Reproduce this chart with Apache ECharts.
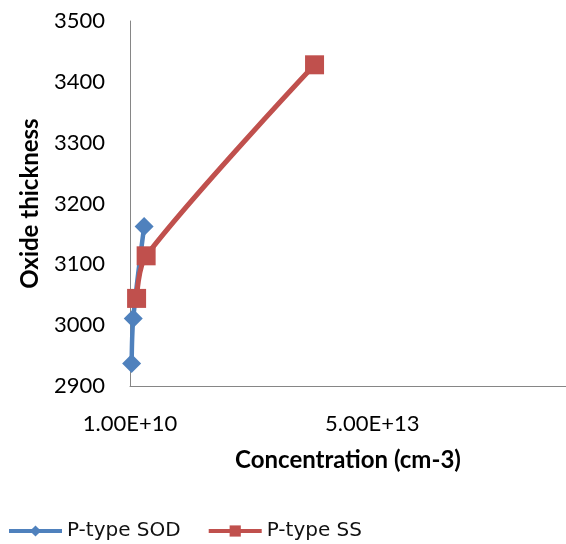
<!DOCTYPE html>
<html><head><meta charset="utf-8">
<script src="https://cdn.jsdelivr.net/npm/echarts@6/dist/echarts.min.js"></script>
<style>html,body{margin:0;padding:0;background:#fff}#c{width:566px;height:544px}</style>
</head><body><div id="c"></div>
<script>
const sodX = [3.5e11, 6.8e11, 2.93e12];
const sodY = [2937, 3011, 3162];
const ssX = [1.37e12, 3.34e12, 3.81e13];
const ssY = [3044, 3114, 3428];
const seriesNames = ['P-type SOD', 'P-type SS'];
const xTitle = 'Concentration (cm-3)';
const yTitle = 'Oxide thickness';

const font = 'Lato, "Open Sans", sans-serif';
const chart = echarts.init(document.getElementById('c'));
chart.setOption({
  animation: false,
  grid: {left: 130, right: 0, top: 21, bottom: 158},
  xAxis: {
    type: 'value', min: 1e10, max: 9e13, interval: 5e13,
    name: xTitle, nameLocation: 'middle', nameGap: 62,
    nameTextStyle: {fontFamily: font, fontWeight: 'bold', fontSize: 24, color: '#000'},
    axisLine: {lineStyle: {color: '#868686', width: 1}},
    axisTick: {show: false},
    splitLine: {show: false},
    axisLabel: {showMaxLabel: false, margin: 27, fontFamily: font, fontSize: 22, color: '#000',
      formatter: v => v.toExponential(2).toUpperCase()}
  },
  yAxis: {
    type: 'value', min: 2900, max: 3500, interval: 100,
    name: yTitle, nameLocation: 'middle', nameGap: 88,
    nameTextStyle: {fontFamily: font, fontWeight: 'bold', fontSize: 24, color: '#000'},
    axisLine: {show: true, lineStyle: {color: '#868686', width: 1}},
    axisTick: {show: false},
    splitLine: {show: false},
    axisLabel: {margin: 25, fontFamily: font, fontSize: 22, color: '#000', formatter: v => String(v)}
  },
  legend: {
    left: 2, top: 516, itemWidth: 53, itemHeight: 14, itemGap: 26,
    textStyle: {fontFamily: '"DejaVu Sans", sans-serif', fontSize: 20, color: '#111'},
    lineStyle: {width: 4},
    data: seriesNames
  },
  series: [
    {name: seriesNames[0], type: 'line', smooth: 0.3,
     data: sodX.map((x, i) => [x, sodY[i]]),
     symbol: 'diamond', symbolSize: 19,
     lineStyle: {color: '#4F81BD', width: 4.5},
     itemStyle: {color: '#4F81BD'}},
    {name: seriesNames[1], type: 'line', smooth: 0.3,
     data: ssX.map((x, i) => [x, ssY[i]]),
     symbol: 'rect', symbolSize: 19,
     lineStyle: {color: '#C0504D', width: 5},
     itemStyle: {color: '#C0504D'}}
  ]
});
</script></body></html>
